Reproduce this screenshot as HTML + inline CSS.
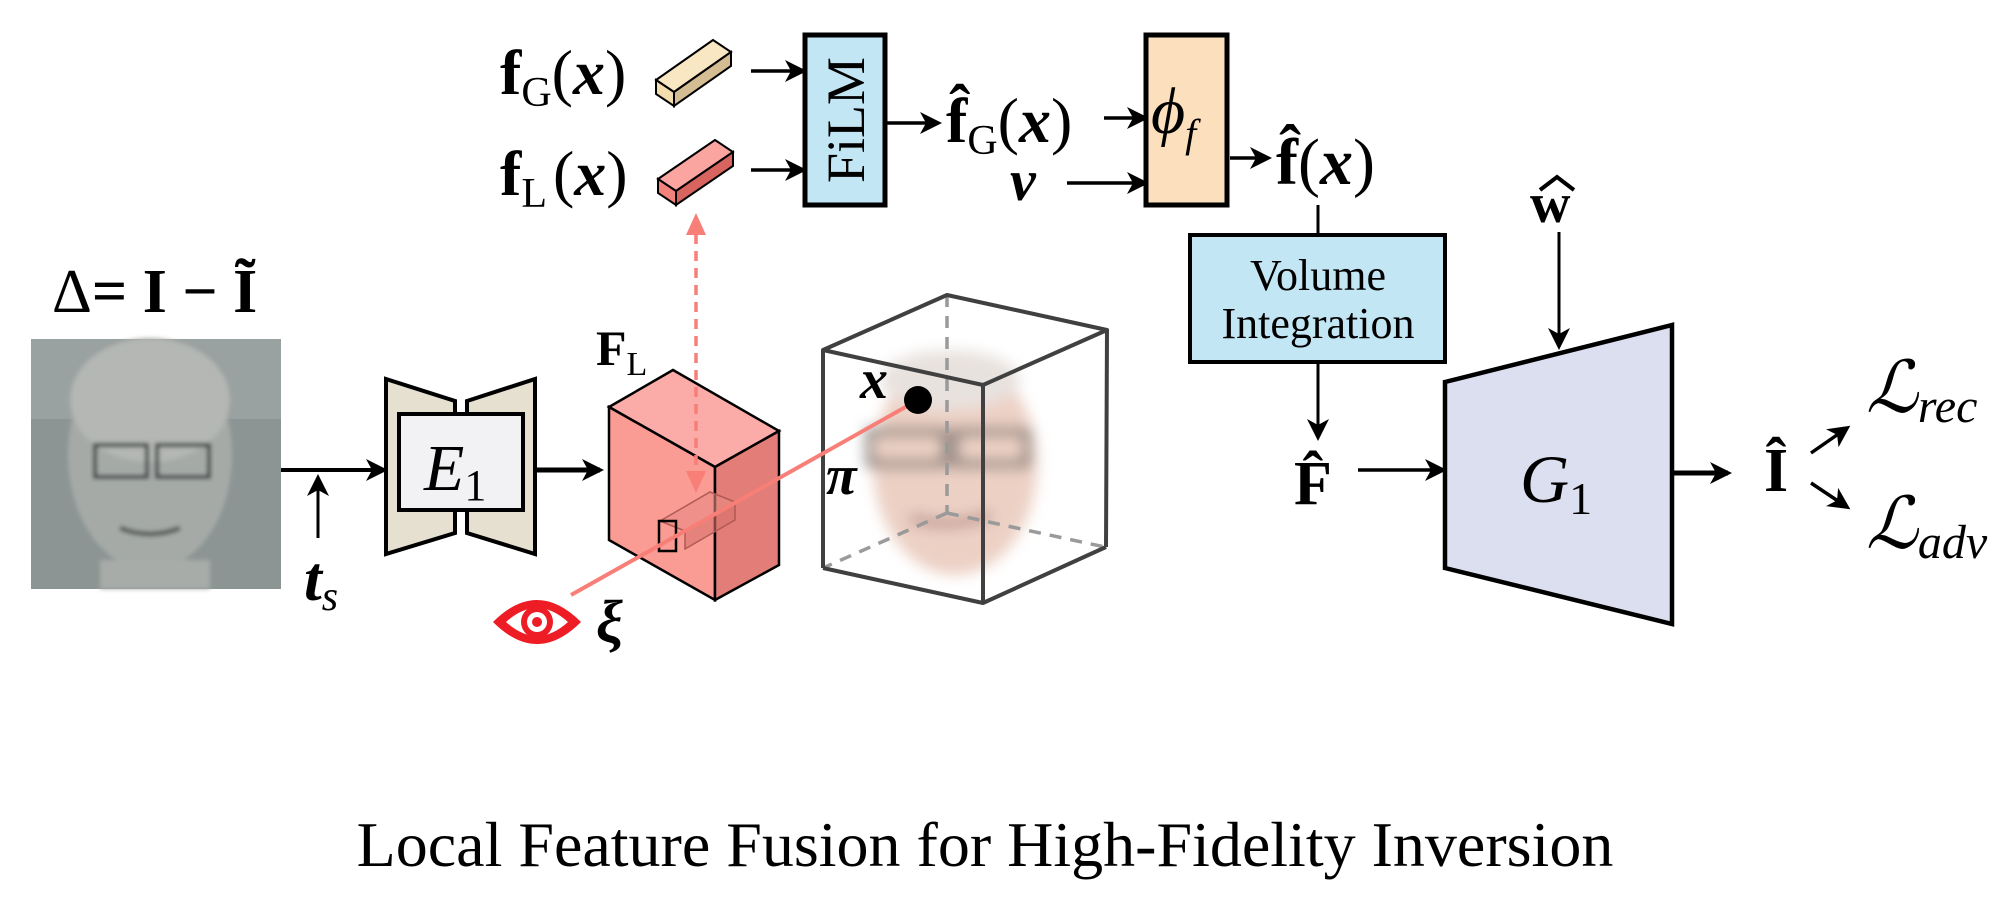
<!DOCTYPE html>
<html><head><meta charset="utf-8"><style>
html,body{margin:0;padding:0;background:#fff;}
svg{display:block;}
text{font-family:"Liberation Serif",serif;}
</style></head><body>
<svg width="2016" height="921" viewBox="0 0 2016 921" xmlns="http://www.w3.org/2000/svg">
<defs>
<marker id="ahb" markerWidth="22" markerHeight="22" refX="18" refY="11" orient="auto" markerUnits="userSpaceOnUse" viewBox="0 0 22 22"><path d="M0,0 L22,11 L0,22 L6,11 Z" fill="#000"/></marker>
<marker id="ahr" markerWidth="22" markerHeight="22" refX="18" refY="11" orient="auto-start-reverse" markerUnits="userSpaceOnUse" viewBox="0 0 22 22"><path d="M0,1 L22,11 L0,21 Z" fill="#f77f78"/></marker>
<filter id="bl" x="-20%" y="-20%" width="140%" height="140%"><feGaussianBlur stdDeviation="7"/></filter>
<filter id="bl2"><feGaussianBlur stdDeviation="2"/></filter>
</defs>

<!-- Delta label -->
<text x="52" y="312" font-size="62"><tspan>Δ</tspan><tspan font-weight="bold">= I − Ĩ</tspan></text>

<!-- face image -->
<rect x="31" y="339" width="250" height="250" fill="#8c9594"/>
<rect x="31" y="339" width="250" height="80" fill="#9aa1a1"/>
<g filter="url(#bl2)">
<ellipse cx="150" cy="455" rx="82" ry="115" fill="#a5aaa7"/>
<ellipse cx="150" cy="400" rx="80" ry="62" fill="#b4b7b3"/>
<rect x="95" y="445" width="52" height="32" fill="none" stroke="#3c4040" stroke-width="4"/>
<rect x="157" y="445" width="52" height="32" fill="none" stroke="#3c4040" stroke-width="4"/>
<path d="M120,528 Q150,540 180,528" stroke="#5a5c58" stroke-width="5" fill="none"/>
<rect x="100" y="560" width="110" height="29" fill="#a8aca8"/>
</g>

<!-- arrow face -> E1 with t_s -->
<line x1="281" y1="470" x2="384" y2="470" stroke="#000" stroke-width="4" marker-end="url(#ahb)"/>
<line x1="318" y1="538" x2="318" y2="478" stroke="#000" stroke-width="3" marker-end="url(#ahb)"/>
<text x="304" y="600" font-size="64" font-weight="bold" font-style="italic">t<tspan font-size="42" font-weight="normal" dy="10">s</tspan></text>

<!-- E1 -->
<polygon points="386,379 455,401 455,533 386,554" fill="#e5e0d0" stroke="#000" stroke-width="4"/>
<polygon points="467,401 535,379 535,554 467,533" fill="#e5e0d0" stroke="#000" stroke-width="4"/>
<rect x="399" y="414" width="124" height="96" fill="#f2f2f4" stroke="#000" stroke-width="4"/>
<text x="424" y="490" font-size="66" font-style="italic">E<tspan font-style="normal" font-size="44" dy="10">1</tspan></text>

<line x1="537" y1="470" x2="600" y2="470" stroke="#000" stroke-width="5" marker-end="url(#ahb)"/>

<!-- F_L cuboid -->
<text x="596" y="365" font-size="50" font-weight="bold">F<tspan font-weight="normal" font-size="34" dy="10">L</tspan></text>
<polygon points="609,407 673,370 779,431 715,467" fill="#fbaca8" stroke="#000" stroke-width="2.5"/>
<polygon points="609,407 715,467 715,600 609,540" fill="#fa9b94" stroke="#000" stroke-width="2.5"/>
<polygon points="715,467 779,431 779,565 715,600" fill="#e27d77" stroke="#000" stroke-width="2.5"/>
<polygon points="660,521 710,492 735,502 685,531" fill="#e88a84" fill-opacity="0.6" stroke="#b05a55" stroke-width="1.5"/>
<polygon points="685,531 735,502 735,520 685,549" fill="#d8726c" fill-opacity="0.6" stroke="#b05a55" stroke-width="1.5"/>
<rect x="659" y="521" width="17" height="30" fill="none" stroke="#000" stroke-width="2.5"/>

<!-- dashed vertical red arrows -->
<line x1="696" y1="217" x2="696" y2="489" stroke="#f77f78" stroke-width="3.5" stroke-dasharray="10,7" marker-start="url(#ahr)" marker-end="url(#ahr)"/>

<!-- blurry face in cube -->
<g filter="url(#bl)">
<ellipse cx="955" cy="465" rx="82" ry="110" fill="#ecd0c4"/>
<ellipse cx="950" cy="380" rx="70" ry="30" fill="#e8e2de"/>
<rect x="870" y="432" width="75" height="32" fill="none" stroke="#6e6a68" stroke-width="7"/>
<rect x="955" y="432" width="72" height="32" fill="none" stroke="#6e6a68" stroke-width="7"/>
<path d="M910,518 Q950,530 990,515" stroke="#b48a82" stroke-width="8" fill="none"/>
</g>

<!-- gray cube -->
<g stroke="#9a9a9a" stroke-width="3.5" stroke-dasharray="12,9" fill="none">
<line x1="947" y1="295" x2="947" y2="513"/>
<line x1="947" y1="513" x2="823" y2="568"/>
<line x1="947" y1="513" x2="1105" y2="547"/>
</g>
<g stroke="#404040" stroke-width="4" fill="none" stroke-linejoin="round">
<polygon points="823,350 947,295 1107,330 983,385"/>
<line x1="823" y1="350" x2="823" y2="568"/>
<line x1="983" y1="385" x2="983" y2="603"/>
<line x1="1107" y1="330" x2="1106" y2="547"/>
<polyline points="823,568 983,603 1106,547"/>
</g>

<!-- red ray -->
<line x1="571" y1="595" x2="918" y2="400" stroke="#f77f78" stroke-width="4"/>
<circle cx="918" cy="400" r="14" fill="#000"/>
<text x="860" y="398" font-size="56" font-weight="bold" font-style="italic">x</text>
<text x="826" y="494" font-size="56" font-style="italic" font-weight="bold">π</text>

<!-- eye -->
<g transform="translate(537,622)">
<path d="M-44,0 Q0,-44 44,0 Q0,44 -44,0 Z" fill="#ee1c25"/>
<path d="M-31,0 Q0,-28 31,0 Q0,28 -31,0 Z" fill="#fff"/>
<circle r="16" fill="#ee1c25"/>
<circle r="10" fill="#fff"/>
<circle r="5" fill="#ee1c25"/>
</g>
<text x="596" y="642" font-size="60" font-weight="bold" font-style="italic">ξ</text>

<!-- fG / fL -->
<text x="500" y="94" font-size="64"><tspan font-weight="bold">f</tspan><tspan font-size="42" dy="12">G</tspan><tspan dy="-12">(</tspan><tspan font-weight="bold" font-style="italic">x</tspan>)</text>
<text x="500" y="195" font-size="64"><tspan font-weight="bold">f</tspan><tspan font-size="42" dy="12">L</tspan><tspan dy="-12" dx="6">(</tspan><tspan font-weight="bold" font-style="italic">x</tspan>)</text>

<!-- tan small cuboid -->
<polygon points="656,80 713,40 731,52 674,92" fill="#f9e7c4" stroke="#000" stroke-width="2"/>
<polygon points="656,80 674,92 674,106 656,94" fill="#f3dcae" stroke="#000" stroke-width="2"/>
<polygon points="674,92 731,52 731,66 674,106" fill="#d4bd93" stroke="#000" stroke-width="2"/>
<!-- red small cuboid -->
<polygon points="658,179 715,140 733,152 676,191" fill="#fba5a0" stroke="#000" stroke-width="2"/>
<polygon points="658,179 676,191 676,205 658,193" fill="#f4827c" stroke="#000" stroke-width="2"/>
<polygon points="676,191 733,152 733,166 676,205" fill="#d8645f" stroke="#000" stroke-width="2"/>

<line x1="751" y1="71" x2="803" y2="71" stroke="#000" stroke-width="3.5" marker-end="url(#ahb)"/>
<line x1="751" y1="170" x2="803" y2="170" stroke="#000" stroke-width="3.5" marker-end="url(#ahb)"/>

<!-- FiLM -->
<rect x="805" y="35" width="80" height="170" fill="#c3e6f5" stroke="#000" stroke-width="5"/>
<text x="0" y="0" font-size="54" text-anchor="middle" transform="translate(864,120) rotate(-90)">FiLM</text>

<line x1="887" y1="123" x2="938" y2="123" stroke="#000" stroke-width="3.5" marker-end="url(#ahb)"/>
<text x="946" y="142" font-size="64"><tspan font-weight="bold">f̂</tspan><tspan font-size="42" dy="12">G</tspan><tspan dy="-12">(</tspan><tspan font-weight="bold" font-style="italic">x</tspan>)</text>

<text x="1010" y="200" font-size="58" font-weight="bold" font-style="italic">v</text>
<line x1="1067" y1="183" x2="1145" y2="183" stroke="#000" stroke-width="3.5" marker-end="url(#ahb)"/>
<line x1="1104" y1="118" x2="1145" y2="118" stroke="#000" stroke-width="3.5" marker-end="url(#ahb)"/>

<!-- phi -->
<rect x="1146" y="35" width="81" height="170" fill="#fce0bd" stroke="#000" stroke-width="5"/>
<text x="1151" y="133" font-size="66" font-style="italic">ϕ<tspan font-size="40" dy="14">f</tspan></text>

<line x1="1230" y1="158" x2="1268" y2="158" stroke="#000" stroke-width="3.5" marker-end="url(#ahb)"/>
<text x="1276" y="184" font-size="66"><tspan font-weight="bold">f̂</tspan>(<tspan font-weight="bold" font-style="italic">x</tspan>)</text>

<line x1="1318" y1="205" x2="1318" y2="234" stroke="#000" stroke-width="3"/>
<!-- Volume Integration -->
<rect x="1190" y="235" width="255" height="127" fill="#c3e6f5" stroke="#000" stroke-width="4"/>
<text x="1318" y="290" font-size="44" text-anchor="middle">Volume</text>
<text x="1318" y="338" font-size="44" text-anchor="middle">Integration</text>
<line x1="1318" y1="362" x2="1318" y2="437" stroke="#000" stroke-width="3" marker-end="url(#ahb)"/>

<text x="1294" y="504" font-size="62" font-weight="bold">F̂</text>
<line x1="1358" y1="470" x2="1443" y2="470" stroke="#000" stroke-width="3.5" marker-end="url(#ahb)"/>

<!-- w hat -->
<text x="1530" y="222" font-size="56" font-weight="bold">w</text>
<path d="M1540,190 L1557,177 L1574,190" stroke="#000" stroke-width="4" fill="none"/>
<line x1="1559" y1="232" x2="1559" y2="346" stroke="#000" stroke-width="3" marker-end="url(#ahb)"/>

<!-- G1 -->
<polygon points="1445,382 1672,325 1672,624 1445,568" fill="#dcdff0" stroke="#000" stroke-width="4.5"/>
<text x="1520" y="502" font-size="68" font-style="italic">G<tspan font-style="normal" font-size="46" dy="12">1</tspan></text>

<line x1="1673" y1="473" x2="1728" y2="473" stroke="#000" stroke-width="5" marker-end="url(#ahb)"/>
<text x="1764" y="491" font-size="62" font-weight="bold">Î</text>
<line x1="1811" y1="453" x2="1847" y2="428" stroke="#000" stroke-width="3.5" marker-end="url(#ahb)"/>
<line x1="1811" y1="483" x2="1847" y2="507" stroke="#000" stroke-width="3.5" marker-end="url(#ahb)"/>

<text x="1866" y="412" font-size="72" font-style="italic">ℒ<tspan font-size="48" dy="10">rec</tspan></text>
<text x="1866" y="548" font-size="72" font-style="italic">ℒ<tspan font-size="48" dy="10">adv</tspan></text>

<!-- caption -->
<text x="985" y="866" font-size="64" text-anchor="middle">Local Feature Fusion for High-Fidelity Inversion</text>
</svg>
</body></html>
